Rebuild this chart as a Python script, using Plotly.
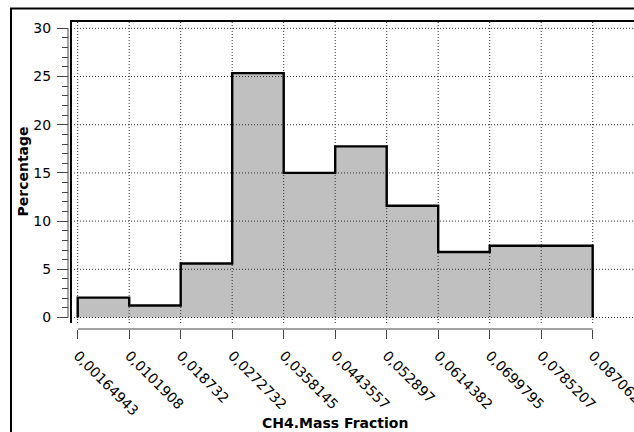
import plotly.graph_objects as go

# ---- data ----
bin_edges = [0.00164943, 0.0101908, 0.018732, 0.0272732, 0.0358145, 0.0443557,
             0.052897, 0.0614382, 0.0699795, 0.0785207, 0.0870620]
edge_labels = ["0,00164943", "0,0101908", "0,018732", "0,0272732", "0,0358145",
               "0,0443557", "0,052897", "0,0614382", "0,0699795", "0,0785207", "0,087062"]
percentages = [2.06, 1.24, 5.6, 25.35, 15.0, 17.75, 11.6, 6.8, 7.45, 7.45]
y_ticks = [0, 5, 10, 15, 20, 25, 30]
x_title = "CH4.Mass Fraction"
y_title = "Percentage"

# ---- layout geometry (pixels) ----
W, H = 634, 432
ML, MR, MT, MB = 68, 0, 21, 103
PW, PH = W - ML - MR, H - MT - MB


def px_x(p):
    return (p - ML) / PW


def px_y(p):
    return (H - MB - p) / PH


bw = bin_edges[1] - bin_edges[0]
x_lo = bin_edges[0] - 6.7 / 51.5 * bw
x_hi = bin_edges[0] + (W - 77.7) / 51.5 * bw
y_lo, y_hi = -0.57, 30.76

# step outline
xs = [bin_edges[0]] + bin_edges[:-1] + [bin_edges[-1], bin_edges[-1]]
ys = [0] + percentages + [percentages[-1], 0]

# grid
gx, gy = [], []
for e in bin_edges:
    gx += [e, e, None]
    gy += [y_lo, y_hi, None]
for t in y_ticks:
    gx += [x_lo, x_hi, None]
    gy += [t, t, None]

fig = go.Figure()
fig.add_trace(go.Scatter(x=xs, y=ys, mode="lines", line=dict(shape="hv", width=0),
                         fill="tozeroy", fillcolor="#C0C0C0", hoverinfo="skip"))
fig.add_trace(go.Scatter(x=gx, y=gy, mode="lines",
                         line=dict(color="#333333", width=1, dash="1px,2px"),
                         hoverinfo="skip", connectgaps=False))
fig.add_trace(go.Scatter(x=xs, y=ys, mode="lines",
                         line=dict(shape="hv", color="black", width=2.4),
                         hoverinfo="skip"))

font = dict(family="DejaVu Sans", size=14, color="black")
title_font = dict(family="DejaVu Sans", size=14, color="black")

fig.update_layout(
    width=W, height=H,
    margin=dict(l=ML, r=MR, t=MT, b=MB, pad=0),
    paper_bgcolor="white", plot_bgcolor="white",
    showlegend=False,
    font=font,
    xaxis=dict(
        domain=[px_x(71), 1], range=[x_lo, x_hi],
        anchor="free", position=0,
        showgrid=False, zeroline=False, showline=False,
        tickmode="array", tickvals=bin_edges, ticktext=edge_labels,
        ticks="outside", ticklen=9, tickwidth=1, tickcolor="#444444",
        tickangle=45, tickfont=font, ticklabeloverflow="allow",
        ticklabelstandoff=3,
        automargin=False,
    ),
    yaxis=dict(
        domain=[px_y(323), 1], range=[y_lo, y_hi],
        anchor="free", position=0,
        showgrid=False, zeroline=False, showline=False,
        tickmode="array", tickvals=y_ticks, ticktext=[str(t) for t in y_ticks],
        ticks="outside", ticklen=11, tickwidth=1, tickcolor="#444444",
        minor=dict(dtick=1, tick0=0, ticks="outside", ticklen=6, tickwidth=1,
                   tickcolor="#444444", showgrid=False),
        tickfont=font, ticklabelstandoff=3, automargin=False,
    ),
    shapes=[
        # axis lines spanning data range
        dict(type="line", xref="x", yref="paper", x0=bin_edges[0], x1=bin_edges[-1],
             y0=0, y1=0, line=dict(color="#444444", width=1)),
        dict(type="line", xref="paper", yref="y", x0=0, x1=0,
             y0=y_ticks[0], y1=y_ticks[-1], line=dict(color="#444444", width=1)),
        # plot frame (top + left)
        dict(type="path", xref="paper", yref="paper",
             path=f"M {px_x(71)},{px_y(323)} L {px_x(71)},{px_y(21)} L {px_x(W + 5)},{px_y(21)}",
             line=dict(color="black", width=2)),
        # outer border
        dict(type="path", xref="paper", yref="paper",
             path=f"M {px_x(11)},{px_y(H + 5)} L {px_x(11)},{px_y(8.5)} L {px_x(W + 5)},{px_y(8.5)}",
             line=dict(color="black", width=2)),
    ],
    annotations=[
        dict(text=f"<b>{x_title}</b>", xref="x", yref="paper",
             x=(bin_edges[0] + bin_edges[-1]) / 2, y=px_y(423),
             showarrow=False, xanchor="center", yanchor="middle",
             font=title_font),
        dict(text=f"<b>{y_title}</b>", xref="paper", yref="paper",
             x=px_x(22.5), y=px_y(172), textangle=-90,
             showarrow=False, xanchor="center", yanchor="middle",
             font=title_font),
    ],
)

fig.write_html("out.html", config={"displayModeBar": False},
               post_script="document.body.style.margin='0';document.body.style.overflow='hidden';")
